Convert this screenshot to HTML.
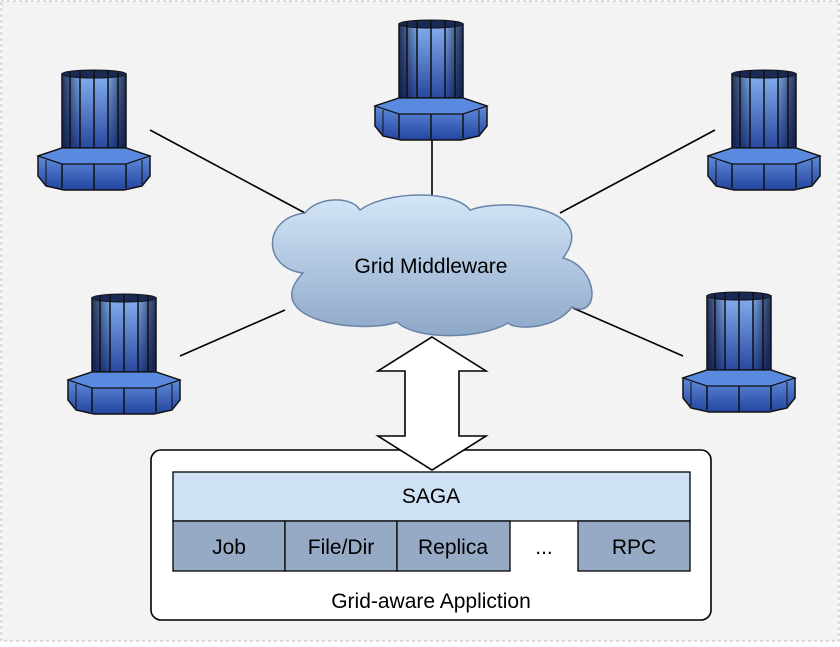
<!DOCTYPE html>
<html><head><style>
html,body{margin:0;padding:0;background:#fff}
body{width:840px;height:642px;overflow:hidden;font-family:"Liberation Sans",sans-serif}
</style></head><body>
<svg width="840" height="642" viewBox="0 0 840 642" xmlns="http://www.w3.org/2000/svg">
<defs>
<linearGradient id="cl" x1="0" y1="0" x2="0" y2="1"><stop offset="0" stop-color="#d4e6f8"/><stop offset="1" stop-color="#8ea8c8"/></linearGradient>
<linearGradient id="tw" x1="0" y1="0" x2="0" y2="1"><stop offset="0" stop-color="#86b0f0"/><stop offset="1" stop-color="#1c3a94"/></linearGradient>
<linearGradient id="th" x1="0" y1="0" x2="1" y2="0"><stop offset="0" stop-color="#0a1430" stop-opacity="0.8"/><stop offset="0.3" stop-color="#0a1430" stop-opacity="0"/><stop offset="0.7" stop-color="#0a1430" stop-opacity="0"/><stop offset="1" stop-color="#0a1430" stop-opacity="0.8"/></linearGradient>
<linearGradient id="bs" x1="0" y1="0" x2="0" y2="1"><stop offset="0" stop-color="#6e9ce8"/><stop offset="1" stop-color="#23449e"/></linearGradient>
<g id="srv">
<rect x="24" y="4" width="64" height="84" fill="url(#tw)" stroke="#111" stroke-width="1.5"/>
<rect x="24" y="4" width="64" height="84" fill="url(#th)"/>
<ellipse cx="56" cy="4" rx="32" ry="4" fill="#1a2a55" stroke="#111"/>
<line x1="32" y1="2" x2="32" y2="88" stroke="#111" stroke-width="1.5"/>
<line x1="42" y1="1" x2="42" y2="88" stroke="#111" stroke-width="1.5"/>
<line x1="56" y1="0" x2="56" y2="88" stroke="#111" stroke-width="1.5"/>
<line x1="70" y1="1" x2="70" y2="88" stroke="#111" stroke-width="1.5"/>
<line x1="80" y1="2" x2="80" y2="88" stroke="#111" stroke-width="1.5"/>
<polygon points="0,86 24,78 88,78 112,86 112,106 104,116 86,120 26,120 8,116 0,106" fill="url(#bs)" stroke="#111" stroke-width="1.5"/>
<polygon points="0,86 24,78 88,78 112,86 88,94 24,94" fill="#5a8ae0" stroke="#111" stroke-width="1.2"/>
<line x1="24" y1="94" x2="24" y2="118" stroke="#111" stroke-width="1.5"/>
<line x1="88" y1="94" x2="88" y2="118" stroke="#111" stroke-width="1.5"/>
<line x1="56" y1="94" x2="56" y2="120" stroke="#111" stroke-width="1.5"/>
<line x1="8" y1="90" x2="8" y2="114" stroke="#111"/>
<line x1="104" y1="90" x2="104" y2="114" stroke="#111"/>
</g>
</defs>
<rect x="1" y="1" width="838" height="640" fill="#f3f3f3" stroke="#bbb" stroke-dasharray="3,3"/>
<g stroke="#000" stroke-width="1.6">
<line x1="150" y1="130" x2="305" y2="213"/>
<line x1="432" y1="140" x2="432" y2="198"/>
<line x1="715" y1="130" x2="560" y2="213"/>
<line x1="180" y1="356" x2="285" y2="310"/>
<line x1="683" y1="356" x2="573" y2="308"/>
</g>
<use href="#srv" x="38" y="70"/>
<use href="#srv" x="375" y="20"/>
<use href="#srv" x="708" y="70"/>
<use href="#srv" x="68" y="294"/>
<use href="#srv" x="683" y="292"/>
<path d="M303,273 C262,268 262,218 305,213 C318,196 352,196 360,210 C388,190 455,190 470,210 C510,196 600,210 563,258 C600,268 600,320 572,307 C555,330 515,330 508,323 C480,340 415,340 397,322 C360,335 258,320 303,273 Z" fill="url(#cl)" stroke="#6a84a8" stroke-width="1.5"/>
<text x="431" y="273" font-size="21" text-anchor="middle" fill="#000">Grid Middleware</text>
<rect x="151" y="450" width="560" height="170" rx="10" fill="#fff" stroke="#000" stroke-width="1.6"/>
<polygon points="432,337 486,371 459,371 459,436 486,436 432,470 378,436 405,436 405,371 378,371" fill="#fff" stroke="#000" stroke-width="1.6"/>
<rect x="173" y="472" width="517" height="49" fill="#cfe2f5" stroke="#000" stroke-width="1.3"/>
<text x="431" y="503" font-size="21" text-anchor="middle">SAGA</text>
<g fill="#96aac6" stroke="#000" stroke-width="1.3">
<rect x="173" y="521" width="112" height="50"/>
<rect x="285" y="521" width="112" height="50"/>
<rect x="397" y="521" width="113" height="50"/>
<rect x="578" y="521" width="112" height="50"/>
</g>
<g font-size="21" text-anchor="middle">
<text x="229" y="554">Job</text>
<text x="341" y="554">File/Dir</text>
<text x="453" y="554">Replica</text>
<text x="544" y="554">...</text>
<text x="634" y="554">RPC</text>
<text x="431" y="608">Grid-aware Appliction</text>
</g>
</svg>
</body></html>
